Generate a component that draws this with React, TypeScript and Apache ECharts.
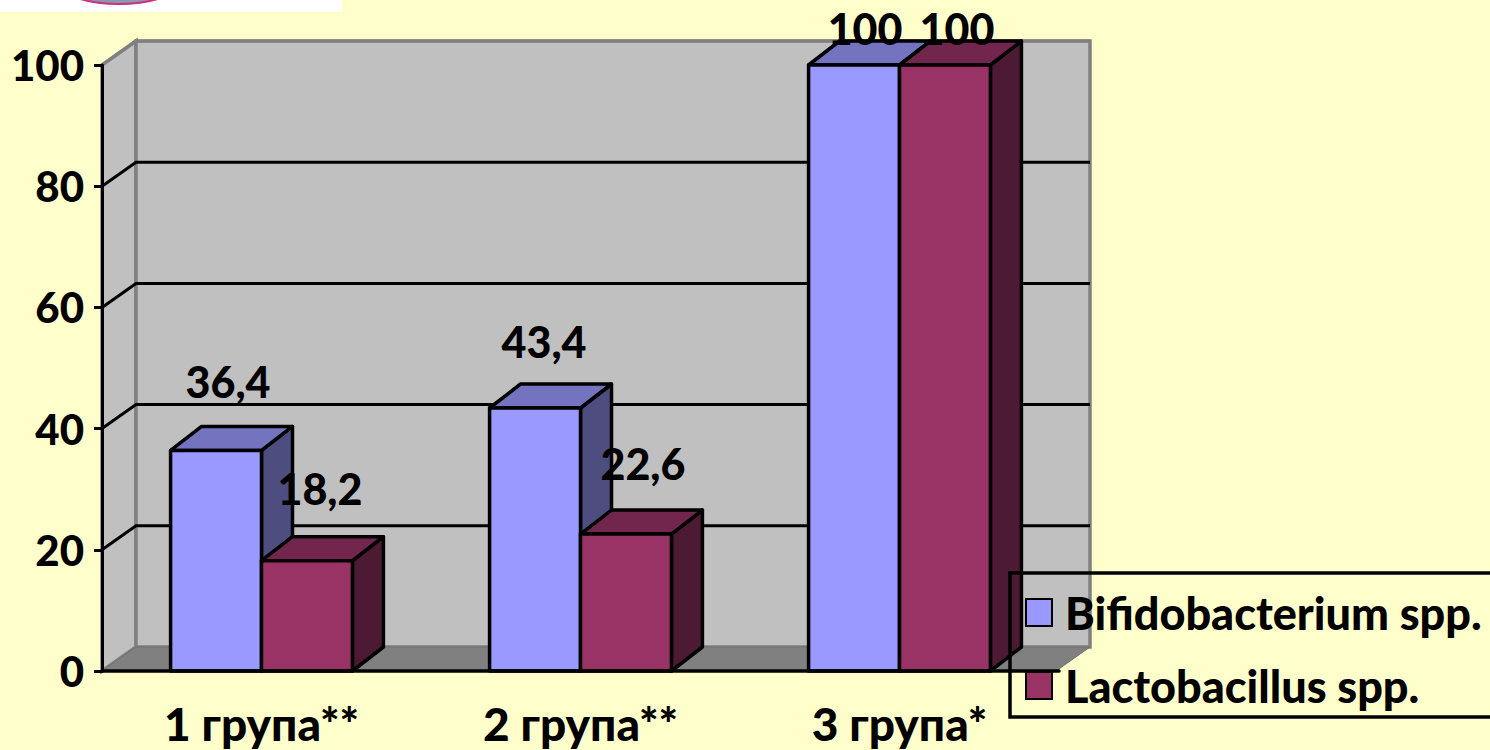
import React, { useEffect, useRef } from "react";
import * as echarts from "echarts";

const categories = ["1 група**", "2 група**", "3 група*"];
const bifidobacterium = [36.4, 43.4, 100];
const lactobacillus = [18.2, 22.6, 100];
const yTicks = [20, 40, 60, 80, 100];

const FONT = "Lato, 'Open Sans', sans-serif";
const HEAVY = 900;
const WALL_DX = 34;
const WALL_DY = 24;
const WALL_INSET = 3;
const BAR_DX = 31;
const BAR_DY = 24;
const BAR_RATIO = 0.285;

// Horizontal and vertical shift of each value label from its bar top.
const labelNudgeA = [[12, -69], [9, -66], [11, -37]];
const labelNudgeB = [[13, -72], [17, -71], [12, -37]];

const formatValue = (v: number) => String(v).replace(".", ",");

function shade3d(front: string, top: string, side: string, dir: number, nudges: number[][]) {
  return (params: any, api: any) => {
    const cat = api.value(0);
    const val = api.value(1);
    const topPt = api.coord([cat, val]);
    const basePt = api.coord([cat, 0]);
    const w = api.size([1, 0])[0] * BAR_RATIO;
    const x0 = dir < 0 ? topPt[0] - w : topPt[0];
    const x1 = x0 + w;
    const yT = topPt[1];
    const yB = basePt[1];
    const edge = { stroke: "#000", lineWidth: 3.5, lineJoin: "round" };
    const nudge = nudges[params.dataIndex];
    return {
      type: "group",
      children: [
        {
          type: "polygon",
          shape: { points: [[x1, yB], [x1 + BAR_DX, yB - BAR_DY], [x1 + BAR_DX, yT - BAR_DY], [x1, yT]] },
          style: { fill: side, ...edge },
        },
        {
          type: "polygon",
          shape: { points: [[x0, yT], [x0 + BAR_DX, yT - BAR_DY], [x1 + BAR_DX, yT - BAR_DY], [x1, yT]] },
          style: { fill: top, ...edge },
        },
        { type: "rect", shape: { x: x0, y: yT, width: w, height: yB - yT }, style: { fill: front, ...edge } },
        {
          type: "text",
          z2: 50,
          style: {
            x: (x0 + x1) / 2 + nudge[0],
            y: yT + nudge[1],
            text: formatValue(val),
            fill: "#000",
            font: `${HEAVY} 43px ${FONT}`,
            align: "center",
            verticalAlign: "middle",
          },
        },
      ],
    };
  };
}

export default function App() {
  const ref = useRef<HTMLDivElement>(null);

  useEffect(() => {
    const chart = echarts.init(ref.current!, null, { renderer: "svg" });
    const indexed = (values: number[]) => values.map((v, i) => [i, v]);

    chart.setOption({
      animation: false,
      backgroundColor: "#FFFFCC",
      grid: { left: 102, top: 65, width: 957, height: 606 },
      xAxis: {
        type: "category",
        data: categories,
        z: 6,
        axisLine: { lineStyle: { color: "#000", width: 3.5 } },
        axisTick: { length: 8, lineStyle: { color: "#000", width: 3 } },
        axisLabel: {
          color: "#000",
          fontFamily: FONT,
          fontWeight: HEAVY,
          fontSize: 46,
          lineHeight: 46,
          margin: 29,
        },
      },
      yAxis: {
        type: "value",
        min: 0,
        max: 100,
        interval: 20,
        z: 6,
        axisLine: { show: true, lineStyle: { color: "#000", width: 3 } },
        axisTick: { show: true, length: 8, lineStyle: { color: "#000", width: 3 } },
        splitLine: { show: false },
        axisLabel: {
          color: "#000",
          fontFamily: FONT,
          fontWeight: HEAVY,
          fontSize: 42,
          margin: 18,
          padding: [0, 0, 4, 0],
        },
      },
      legend: {
        orient: "vertical",
        left: 1025,
        top: 590,
        padding: 0,
        z: 3,
        data: ["Bifidobacterium spp.", "Lactobacillus spp."],
        itemWidth: 26,
        itemHeight: 27,
        itemGap: 28,
        icon: "rect",
        textStyle: {
          color: "#000",
          fontFamily: FONT,
          fontWeight: HEAVY,
          fontSize: 45,
          lineHeight: 45,
          padding: [0, 0, 0, 8],
        },
      },
      graphic: [
        // Picture strip along the top edge
        { type: "rect", z: 1, shape: { x: 0, y: 0, width: 342, height: 12 }, style: { fill: "#fff" } },
        {
          type: "ellipse",
          z: 2,
          shape: { cx: 119, cy: -14, rx: 56, ry: 18 },
          style: { fill: "#8899B0", stroke: "#D02C80", lineWidth: 2 },
        },
        // Legend frame, running off the right edge
        {
          type: "rect",
          z: 20,
          shape: { x: 1010, y: 573, width: 520, height: 144 },
          style: { fill: "none", stroke: "#000", lineWidth: 3.5 },
        },
      ],
      series: [
        {
          // Back and side walls of the plot box
          type: "custom",
          name: "walls",
          z: 1,
          silent: true,
          clip: false,
          data: [[0, 0]],
          renderItem: (params: any) => {
            const { x, y, width, height } = params.coordSys;
            const wallStyle = { fill: "#C0C0C0", stroke: "#808080", lineWidth: 3.5 };
            return {
              type: "group",
              children: [
                {
                  type: "polygon",
                  shape: {
                    points: [[x, y], [x + WALL_DX, y - WALL_DY], [x + WALL_DX, y + height - WALL_DY], [x, y + height]],
                  },
                  style: wallStyle,
                },
                {
                  type: "rect",
                  shape: { x: x + WALL_DX, y: y - WALL_DY, width: width - WALL_INSET, height },
                  style: wallStyle,
                },
              ],
            };
          },
        },
        {
          // Grid lines folded across side and back wall
          type: "custom",
          name: "gridlines",
          z: 2,
          silent: true,
          clip: false,
          data: yTicks.map((v) => [0, v]),
          renderItem: (params: any, api: any) => {
            const { x, width } = params.coordSys;
            const v = api.value(1);
            const y = api.coord([0, v])[1];
            const color = v === 100 ? "#808080" : "#000";
            return {
              type: "polyline",
              shape: {
                points: [[x, y], [x + WALL_DX, y - WALL_DY], [x + WALL_DX + width - WALL_INSET, y - WALL_DY]],
              },
              style: { fill: "none", stroke: color, lineWidth: 3 },
            };
          },
        },
        {
          // Floor of the plot box, laid over the legend marker
          type: "custom",
          name: "floor",
          z: 4,
          silent: true,
          clip: false,
          data: [[0, 0]],
          renderItem: (params: any) => {
            const { x, y, width, height } = params.coordSys;
            const b = y + height;
            const w = width - WALL_INSET;
            return {
              type: "polygon",
              shape: {
                points: [[x, b], [x + WALL_DX, b - WALL_DY], [x + WALL_DX + w, b - WALL_DY], [x + w, b]],
              },
              style: { fill: "#808080", stroke: "#707070", lineWidth: 1 },
            };
          },
        },
        {
          type: "custom",
          name: "Bifidobacterium spp.",
          z: 5,
          clip: false,
          itemStyle: { color: "#9999FF", borderColor: "#000", borderWidth: 3 },
          data: indexed(bifidobacterium),
          renderItem: shade3d("#9999FF", "#7373BF", "#4D4D80", -1, labelNudgeA),
        },
        {
          type: "custom",
          name: "Lactobacillus spp.",
          z: 5,
          clip: false,
          itemStyle: { color: "#993366", borderColor: "#000", borderWidth: 3 },
          data: indexed(lactobacillus),
          renderItem: shade3d("#993366", "#73264D", "#4D1A33", 1, labelNudgeB),
        },
      ],
    });

    return () => chart.dispose();
  }, []);

  return <div ref={ref} style={{ position: "fixed", left: 0, top: 0, width: 1490, height: 750 }} />;
}
